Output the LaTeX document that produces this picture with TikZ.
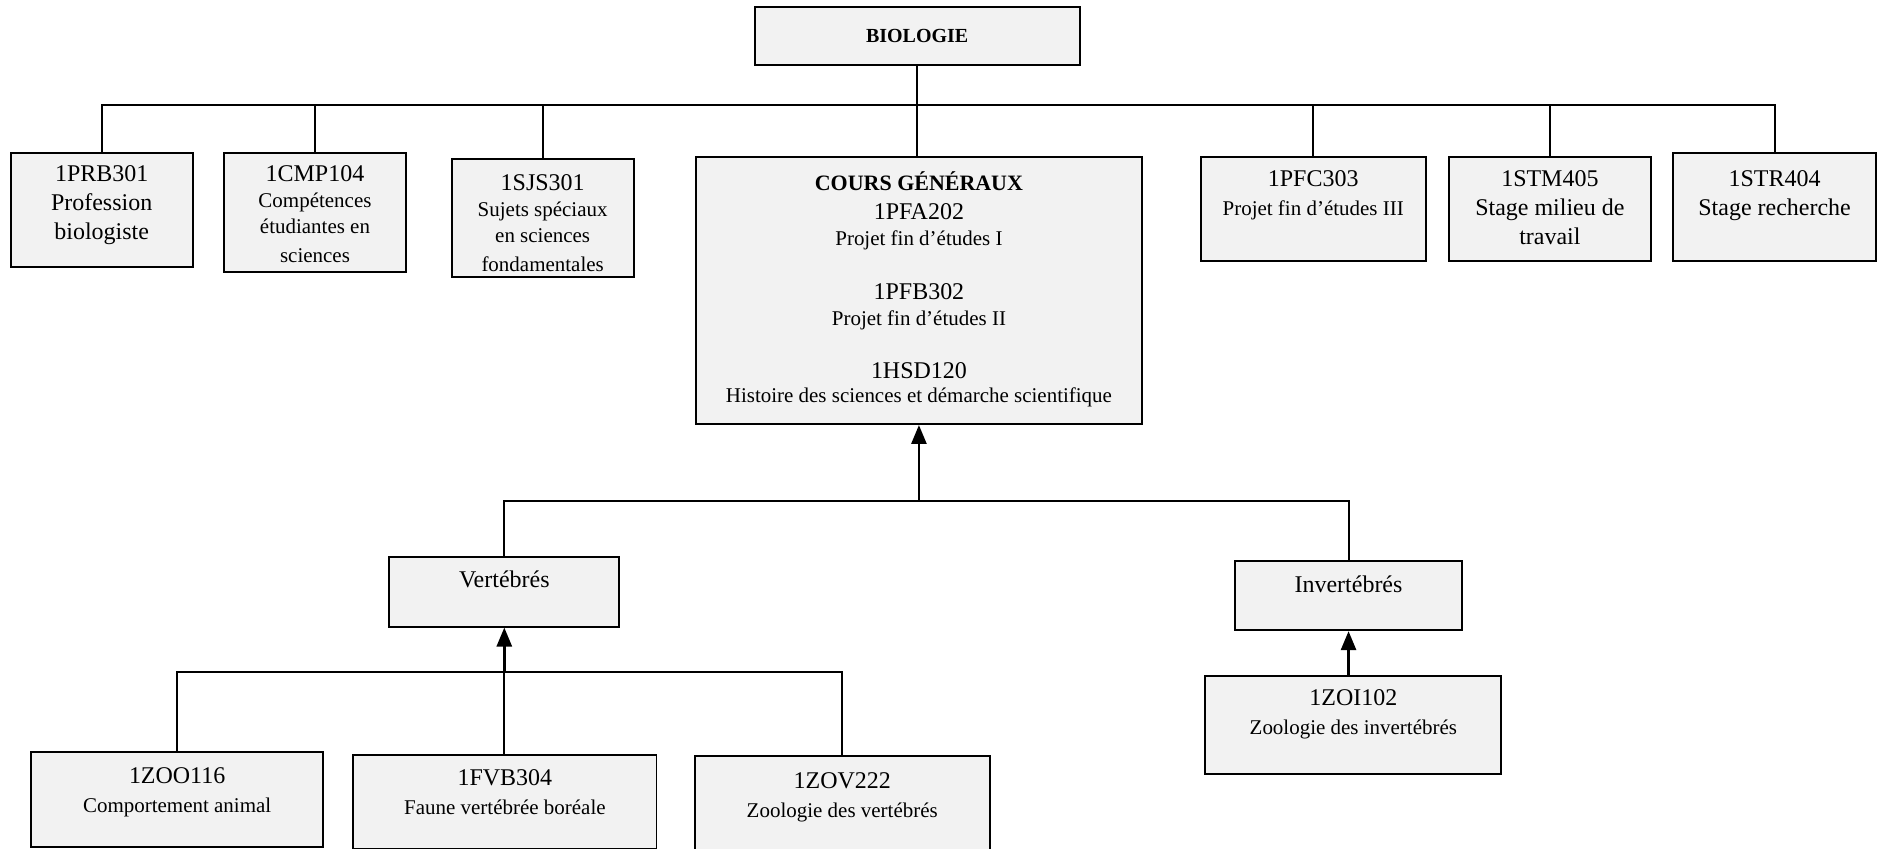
\documentclass[tikz,border=0pt]{standalone}
\usepackage{fontspec}
\setmainfont{Liberation Serif}
\usetikzlibrary{arrows.meta}
\definecolor{grisboite}{HTML}{F2F2F2}
\newcommand{\grand}{\fontsize{12}{14.4}\selectfont}
\newcommand{\petit}{\fontsize{10.5}{13}\selectfont}
\tikzset{
  cours/.style={
    draw,
    rectangle,
    line width=1pt,
    fill=grisboite,
    anchor=north west,
    inner sep=0pt,
    align=flush center,
    font=\grand
  },
  lien/.style={
    line width=1pt
  },
  fleche/.style={
    line width=1.4pt,
    -{Triangle[width=7.5pt,length=9.5pt]}
  }
}

\begin{document}
\begin{tikzpicture}[x=0.6pt, y=-0.6pt]
        \useasboundingbox (0,0) rectangle (1568,708);
        % racine et cours de premier niveau
        \node[cours, minimum width=162.6pt, minimum height=28.8pt, font=\fontsize{10}{12}\selectfont\bfseries] (bio) at (629,5) {BIOLOGIE};
        \node[cours, text width=91.2pt, text height=14.4pt, text depth=42.6pt] (prb) at (8,127) {1PRB301\\Profession\\biologiste};
        \node[cours, text width=91.2pt, text height=14.4pt, text depth=45pt] (cmp) at (186,127) {1CMP104\\\petit Compétences\\étudiantes en\\sciences};
        \node[cours, text width=91.2pt, text height=15.6pt, text depth=43.2pt] (sjs) at (376,132) {1SJS301\\\petit Sujets spéciaux\\en sciences\\fondamentales};
        \node[cours, text width=223.2pt, text height=16.8pt, text depth=117pt] (cg) at (580,130) {{\fontsize{11}{13}\selectfont\bfseries COURS GÉNÉRAUX}\\1PFA202\\\petit Projet fin d’études I\\[13pt]\grand 1PFB302\\\petit Projet fin d’études II\\[12pt]\grand 1HSD120\\[-2.5pt]\petit Histoire des sciences et démarche scientifique};
        \node[cours, text width=112.8pt, text height=15pt, text depth=37.2pt] (pfc) at (1001,130) {1PFC303\\\petit Projet fin d’études III};
        \node[cours, text width=101.4pt, text height=15pt, text depth=37.2pt] (stm) at (1208,130) {1STM405\\Stage milieu de\\travail};
        \node[cours, text width=102pt, text height=16.8pt, text depth=37.2pt] (str) at (1395,127) {1STR404\\Stage recherche};

        % zoologie
        \node[cours, text width=115.2pt, text height=15pt, text depth=19.8pt] (vert) at (324,464) {Vertébrés};
        \node[cours, text width=113.4pt, text height=16.2pt, text depth=18.6pt] (invert) at (1030,467) {Invertébrés};
        \node[cours, text width=148.2pt, text height=15pt, text depth=34.2pt] (zoi) at (1005,563) {1ZOI102\\\petit Zoologie des invertébrés};
        \node[cours, text width=146.4pt, text height=15.6pt, text depth=31.8pt] (zoo) at (25,627) {1ZOO116\\\petit Comportement animal};
        \node[cours, text width=151.8pt, text height=15.6pt, text depth=31.8pt] (fvb) at (294,629) {1FVB304\\\petit Faune vertébrée boréale};
        \node[cours, text width=147.6pt, text height=16.2pt, text depth=33pt] (zov) at (579,630) {1ZOV222\\\petit Zoologie des vertébrés};

        \coordinate (bushaut) at (0,88);
        \coordinate (busmilieu) at (0,418);
        \coordinate (busbas) at (0,561);

        \draw[lien] (bio.south) -- (bio.south |- cg.north);
        \draw[lien] (prb.north) |- (bushaut -| str.north) -- (str.north);
        \foreach \n in {cmp, sjs, pfc, stm}
          \draw[lien] (\n.north) -- (\n.north |- bushaut);

        \draw[lien] (vert.north) |- (busmilieu -| invert.north) -- (invert.north);
        \draw[fleche] (cg.south |- busmilieu) -- (cg.south);

        \draw[lien] (zoo.north) |- (busbas -| zov.north) -- (zov.north);
        \draw[lien] (vert.south |- fvb.north) -- (vert.south |- busbas);
        \draw[fleche] (vert.south |- busbas) -- (vert.south);
        \draw[fleche] (invert.south |- zoi.north) -- (invert.south);
\end{tikzpicture}
\end{document}
